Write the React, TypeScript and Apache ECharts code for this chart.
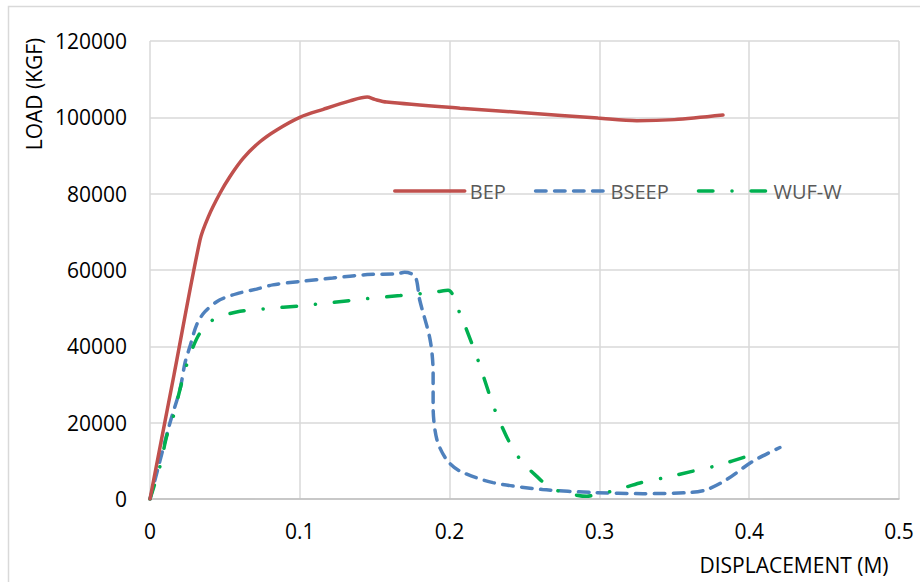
import React, { useEffect, useRef } from "react";
import * as echarts from "echarts";

const seriesNames = ["BEP", "BSEEP", "WUF-W"];

const bepX = [0, 0.016, 0.0334, 0.039, 0.0467, 0.0534, 0.0623, 0.0734, 0.0846, 0.1, 0.1157, 0.1335, 0.145, 0.15, 0.158, 0.207, 0.25, 0.299, 0.325, 0.35, 0.3825];
const bepY = [0, 32500, 67900, 74000, 80100, 84500, 89300, 93600, 96700, 100000, 102100, 104300, 105300, 104700, 104000, 102400, 101200, 99800, 99100, 99400, 100600];

const bseepX = [0, 0.0022, 0.0133, 0.02, 0.0234, 0.0267, 0.0312, 0.0367, 0.0467, 0.06, 0.0712, 0.082, 0.1, 0.122, 0.145, 0.165, 0.17, 0.177, 0.18, 0.187, 0.189, 0.189, 0.1915, 0.198, 0.207, 0.229, 0.262, 0.296, 0.329, 0.3605, 0.372, 0.385, 0.4025, 0.4205];
const bseepY = [0, 3300, 19900, 28700, 35700, 40000, 45700, 49100, 52200, 54000, 55000, 56100, 57000, 57900, 58800, 59000, 59400, 58300, 52200, 41700, 33100, 24200, 15600, 10300, 7300, 4300, 2500, 1700, 1400, 1700, 2500, 5100, 9900, 13500];

const wufX = [0, 0.0067, 0.0111, 0.0156, 0.02, 0.0245, 0.0289, 0.0334, 0.0423, 0.0578, 0.078, 0.1, 0.122, 0.145, 0.167, 0.19, 0.199, 0.207, 0.2157, 0.22, 0.227, 0.2315, 0.24, 0.248, 0.258, 0.267, 0.2757, 0.2917, 0.298, 0.31, 0.327, 0.345, 0.3625, 0.379, 0.4019];
const wufY = [0, 8600, 16400, 21700, 28700, 35200, 40000, 43500, 47000, 49000, 49900, 50600, 51500, 52500, 53300, 54200, 54700, 48500, 39900, 35200, 26900, 22100, 14800, 9900, 6000, 3000, 1800, 700, 1200, 2200, 4200, 5700, 7300, 8800, 11600];

const xTicks = { min: 0, max: 0.5, interval: 0.1 };
const yTicks = { min: 0, max: 120000, interval: 20000 };

const xTitle = "DISPLACEMENT (M)";
const yTitle = "LOAD (KGF)";

const zip = (xs: number[], ys: number[]) => xs.map((x, i) => [x, ys[i]]);

const FONT = "'Open Sans', 'Liberation Sans', sans-serif";

export default function App() {
  const ref = useRef<HTMLDivElement>(null);
  useEffect(() => {
    document.body.style.margin = "0";
    const chart = echarts.init(ref.current!, null, { renderer: "svg" });
    const option: any = {
      animation: false,
      backgroundColor: "#ffffff",
      textStyle: { fontFamily: FONT },
      grid: { left: 150, right: 21, top: 41, bottom: 83, containLabel: false },
      legend: {
        data: seriesNames,
        left: 388,
        top: 176,
        itemWidth: 70,
        itemHeight: 20,
        itemGap: 28,
        itemStyle: { opacity: 0 },
        lineStyle: { width: 3.5 },
        textStyle: { fontSize: 20, color: "#595959", fontFamily: FONT },
      },
      xAxis: {
        type: "value",
        min: xTicks.min,
        max: xTicks.max,
        interval: xTicks.interval,
        axisLine: { show: true, lineStyle: { color: "#bfbfbf", width: 1.5 } },
        axisTick: { show: false },
        splitLine: { show: true, lineStyle: { color: "#d9d9d9", width: 1.5 } },
        axisLabel: { fontSize: 21, color: "#000", margin: 21, fontFamily: FONT },
      },
      yAxis: {
        type: "value",
        min: yTicks.min,
        max: yTicks.max,
        interval: yTicks.interval,
        axisLine: { show: false },
        axisTick: { show: false },
        splitLine: { show: true, lineStyle: { color: "#d9d9d9", width: 1.5 } },
        axisLabel: {
          fontSize: 21,
          color: "#000",
          margin: 23,
          fontFamily: FONT,
          formatter: (v: number) => String(v),
        },
      },
      series: [
        {
          name: seriesNames[0],
          type: "line",
          data: zip(bepX, bepY),
          symbol: "none",
          smooth: 0.3,
          lineStyle: { color: "#c0504d", width: 3.5, cap: "round" },
          itemStyle: { color: "#c0504d" },
          z: 3,
        },
        {
          name: seriesNames[1],
          type: "line",
          data: zip(bseepX, bseepY),
          symbol: "none",
          smooth: 0.3,
          lineStyle: { color: "#4f81bd", width: 3.5, type: [10.5, 8.5], cap: "round" },
          itemStyle: { color: "#4f81bd" },
          z: 2,
        },
        {
          name: seriesNames[2],
          type: "line",
          data: zip(wufX, wufY),
          symbol: "none",
          smooth: 0.3,
          lineStyle: { color: "#00b050", width: 3.5, type: [14.5, 19, 0.1, 19], cap: "round" },
          itemStyle: { color: "#00b050" },
          z: 2,
        },
      ],
      graphic: [
        {
          type: "rect",
          shape: { x: 8.5, y: 6.5, width: 940, height: 620 },
          style: { fill: "none", stroke: "#d9d9d9", lineWidth: 1.5 },
          silent: true,
          z: -10,
        },
        {
          type: "text",
          x: 34,
          y: 94,
          rotation: Math.PI / 2,
          style: {
            text: yTitle,
            fontSize: 21,
            fill: "#000",
            fontFamily: FONT,
            align: "center",
            verticalAlign: "middle",
          },
        },
        {
          type: "text",
          x: 794,
          y: 565,
          style: {
            text: xTitle,
            fontSize: 21,
            fill: "#000",
            fontFamily: FONT,
            align: "center",
            verticalAlign: "middle",
          },
        },
      ],
    };
    chart.setOption(option);
    return () => chart.dispose();
  }, []);
  return (
    <div
      ref={ref}
      style={{ position: "absolute", left: 0, top: 0, width: 920, height: 582 }}
    />
  );
}
